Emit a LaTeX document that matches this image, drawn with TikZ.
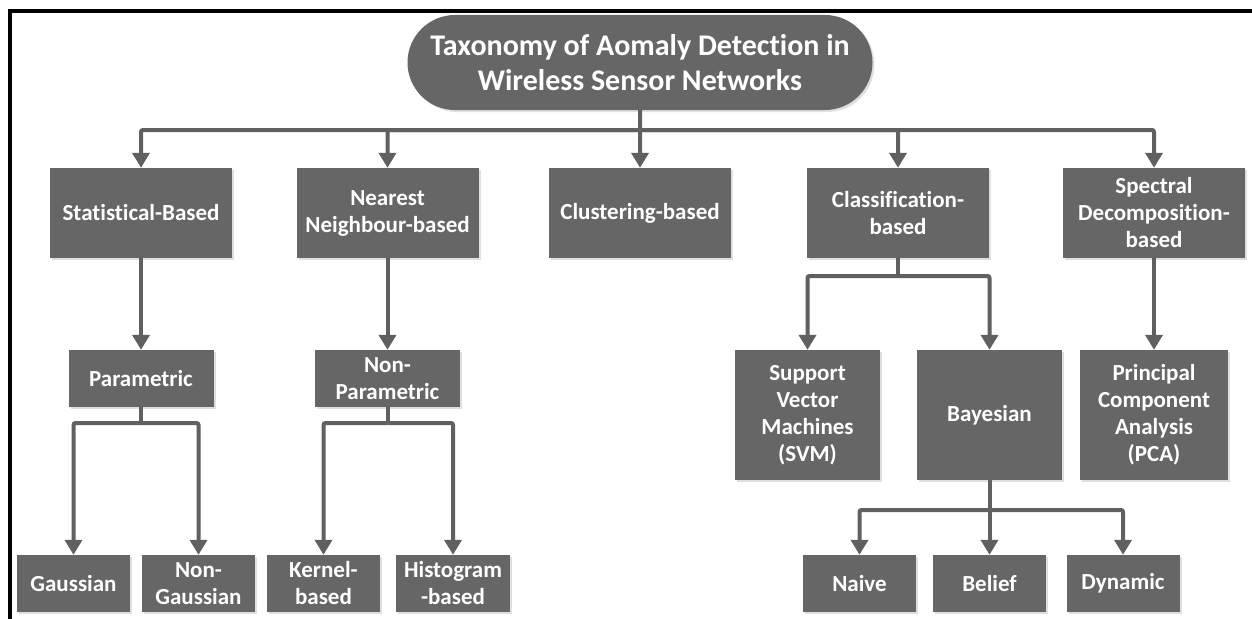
\documentclass[tikz,border=0pt]{standalone}
\usepackage{fontspec}
\setmainfont{Carlito}[Ligatures=CommonOff]
\usetikzlibrary{arrows.meta,shapes.misc,shadows}
\definecolor{boxgray}{HTML}{666666}
\definecolor{linegray}{HTML}{606060}
\begin{document}
\begin{tikzpicture}[
		x=1pt, y=-1pt, % one unit is one pixel of the layout
		box/.style={draw=none, fill=boxgray, inner sep=0pt, align=center, text=white,
			font=\fontsize{23}{27}\selectfont\bfseries,
			drop shadow={shadow xshift=2pt, shadow yshift=-2pt, opacity=0.25, fill=gray}},
		titlebox/.style={box, shape=rounded rectangle, minimum width=465pt, minimum height=95pt,
			font=\fontsize{30}{35}\selectfont\bfseries},
		topbox/.style={box, minimum width=182pt, minimum height=90pt},
		midbox/.style={box, minimum width=145pt, minimum height=57pt},
		tallbox/.style={box, minimum width=145pt, minimum height=130pt},
		leafbox/.style={box, minimum width=113pt, minimum height=57pt},
		link/.style={draw=linegray, line width=4pt, rounded corners=2pt, -{Triangle[width=17pt,length=15pt]}},
		stem/.style={draw=linegray, line width=4pt}
		]
		\useasboundingbox (0,0) rectangle (1252,618);
		% Frame
		\draw[line width=4pt] (10,622) -- (10,11) -- (1256,11);
		% Root
		\node[titlebox] (root) at (640,62.5) {Taxonomy of Aomaly Detection in\\Wireless Sensor Networks};
		% First level
		\node[topbox] (stat) at (141,213) {Statistical-Based};
		\node[topbox] (nn) at (387.5,213) {Nearest\\Neighbour-based};
		\node[topbox] (clus) at (640,213) {Clustering-based};
		\node[topbox] (cls) at (898,213) {Classification-\\based};
		\node[topbox] (spec) at (1154,213) {Spectral\\Decomposition-\\based};
		% Second level
		\node[midbox] (param) at (141,378.5) {Parametric};
		\node[midbox] (nonparam) at (387.5,378.5) {Non-\\Parametric};
		\node[tallbox] (svm) at (807.5,415) {Support\\Vector\\Machines\\(SVM)};
		\node[tallbox] (bayes) at (989.5,415) {Bayesian};
		\node[tallbox, minimum width=148pt] (pca) at (1154,415) {Principal\\Component\\Analysis\\(PCA)};
		% Leaves
		\node[leafbox] (gauss) at (73.5,583.5) {Gaussian};
		\node[leafbox] (nongauss) at (198.5,583.5) {Non-\\Gaussian};
		\node[leafbox] (kernel) at (323.5,583.5) {Kernel-\\based};
		\node[leafbox, minimum width=114pt] (hist) at (453,583.5) {Histogram\\-based};
		\node[leafbox] (naive) at (859.5,583.5) {Naive};
		\node[leafbox] (belief) at (989.5,583.5) {Belief};
		\node[leafbox] (dynamic) at (1123,583.5) {Dynamic};
		
		% Junctions
		\coordinate (rootbus) at (640,130);
		\coordinate (parbus) at (141,423);
		\coordinate (nonparbus) at (387.5,423);
		\coordinate (clsbus) at (898,276);
		\coordinate (bayesbus) at (989.5,510);
		
		% Arrows
		\draw[link] (root) -- (clus);
		\draw[link] (rootbus) -| (stat);
		\draw[link] (rootbus) -| (nn);
		\draw[link] (rootbus) -| (cls);
		\draw[link] (rootbus) -| (spec);
		\draw[link] (stat) -- (param);
		\draw[link] (nn) -- (nonparam);
		\draw[stem] (cls) -- (clsbus);
		\draw[link] (clsbus) -| (svm);
		\draw[link] (clsbus) -| (bayes);
		\draw[link] (spec) -- (pca);
		\draw[stem] (param) -- (parbus);
		\draw[link] (parbus) -| (gauss);
		\draw[link] (parbus) -| (nongauss);
		\draw[stem] (nonparam) -- (nonparbus);
		\draw[link] (nonparbus) -| (kernel);
		\draw[link] (nonparbus) -| (hist);
		\draw[link] (bayes) -- (belief);
		\draw[link] (bayesbus) -| (naive);
		\draw[link] (bayesbus) -| (dynamic);
	\end{tikzpicture}
\end{document}
